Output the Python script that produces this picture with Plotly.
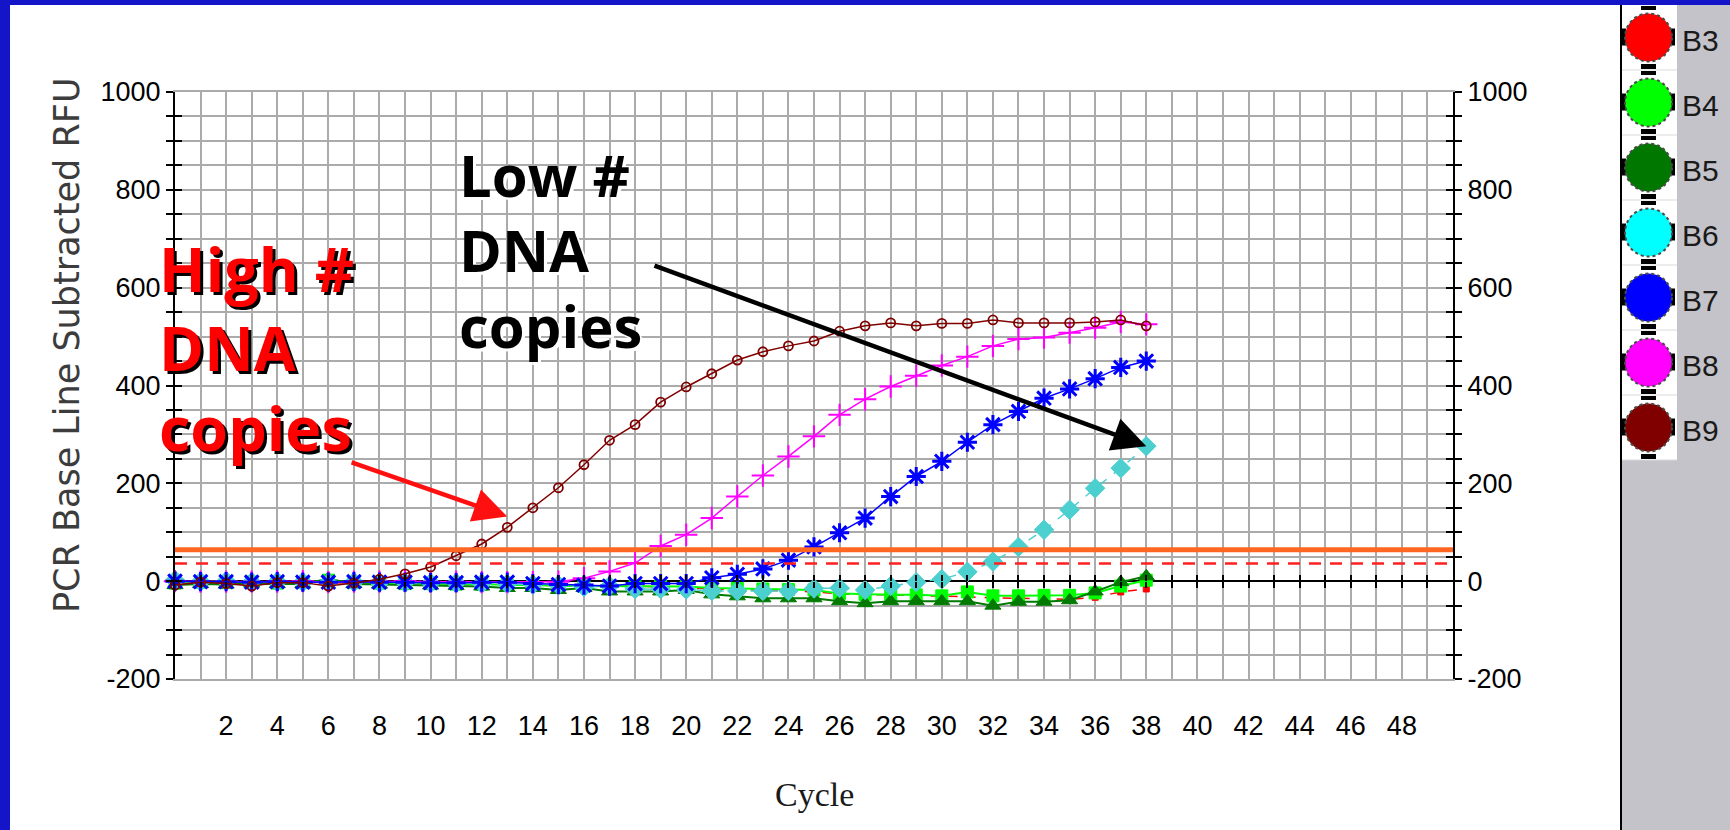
import plotly.graph_objects as go

# Baseline-subtracted fluorescence (RFU) per PCR cycle for wells B3..B9
cycles = list(range(0, 39))

wells = ["B3", "B4", "B5", "B6", "B7", "B8", "B9"]

rfu_b3 = [-3, -2, -4, -3, -5, -3, -4, -4, -3, -5, -4, -5, -6,
          -8, -9, -10, -10, -10, -10, -12, -14, -16, -18, -19, -20, -22,
          -26, -28, -28, -29, -31, -32, -34, -35, -35, -37, -33, -22, -16]
rfu_b4 = [-4, -2, -3, -2, -4, -3, 2, -3, -4, -5, -5, -6, -6,
          -8, -8, -10, -10, -10, -10, -10, -11, -14, -15, -16, -17, -18,
          -25, -27, -28, -28, -30, -22, -30, -30, -29, -29, -24, -10, 2]
rfu_b5 = [-8, -6, -7, -5, -6, -6, 5, -6, -7, -8, -9, -10, -11,
          -14, -14, -18, -14, -21, -21, -21, -18, -27, -31, -35, -35, -35,
          -41, -45, -41, -41, -41, -41, -50, -42, -42, -39, -21, -2, 10]
rfu_b6 = [2, -1, 0, -2, -1, -2, -3, -2, -3, -3, -4, -4, -5,
          -6, -7, -8, -12, -10, -16, -16, -17, -20, -20, -20, -20, -15,
          -14, -18, -10, -2, 4, 19, 40, 70, 105, 146, 190, 231, 276]
rfu_b7 = [0, -1, -1, -2, -1, -2, -2, -1, -2, -2, -3, -3, -2,
          -2, -5, -7, -8, -10, -5, -5, -5, 7, 14, 25, 43, 70,
          99, 129, 173, 214, 245, 284, 320, 347, 374, 393, 414, 437, 450]
rfu_b8 = [0, -1, -1, -1, -1, 0, -2, -1, -1, 0, -1, -1, -2,
          -2, -2, -1, 6, 20, 37, 72, 95, 129, 173, 216, 255, 296,
          340, 372, 398, 420, 441, 459, 481, 495, 498, 508, 518, 530, 525]
rfu_b9 = [-8, -2, -5, -10, -3, -3, -10, -4, 4, 15, 29, 52, 76,
          110, 150, 191, 238, 288, 320, 366, 397, 424, 452, 469, 481, 491,
          511, 522, 528, 522, 527, 527, 534, 528, 528, 528, 530, 534, 522]

threshold_rfu = 64
baseline_limit_rfu = 36

x_range = [0, 50]
y_range = [-200, 1000]
x_labels = ["2", "4", "6", "8", "10", "12", "14", "16", "18", "20", "22", "24",
            "26", "28", "30", "32", "34", "36", "38", "40", "42", "44", "46", "48"]
y_labels = ["-200", "0", "200", "400", "600", "800", "1000"]

series = {"B3": rfu_b3, "B4": rfu_b4, "B5": rfu_b5, "B6": rfu_b6,
          "B7": rfu_b7, "B8": rfu_b8, "B9": rfu_b9}

legend_colors = ["#FF0000", "#00FF00", "#007800", "#00FFFF", "#0000FF", "#FF00FF", "#800000"]

trace_style = {
    "B3": dict(color="#FF0000", symbol="square", size=6, mlw=1, lw=1.5, dash="dash"),
    "B4": dict(color="#00FF00", symbol="square", size=12, mlw=1, lw=2, dash="solid"),
    "B5": dict(color="#007A00", symbol="triangle-up", size=14, mlw=1, lw=2, dash="solid"),
    "B6": dict(color="#4CCFCF", symbol="diamond", size=15, mlw=1, lw=1.5, dash="dash"),
    "B7": dict(color="#0000FF", symbol="asterisk-open", size=16, mlw=3, lw=1.5, dash="solid"),
    "B8": dict(color="#FF00FF", symbol="cross-thin-open", size=16, mlw=2, lw=1.5, dash="solid"),
    "B9": dict(color="#800000", symbol="circle-open", size=9, mlw=1.8, lw=1.5, dash="solid"),
}
draw_order = ["B3", "B4", "B5", "B6", "B8", "B7", "B9"]

# Plot-area geometry in page pixels
W, H = 1730, 830
PL, PR, PT, PB = 175, 1453, 92, 679


def px(xp):
    return (xp - PL) / (PR - PL)


def py(yp):
    return (PB - yp) / (PB - PT)


fig = go.Figure()

for w in draw_order:
    st = trace_style[w]
    fig.add_trace(go.Scatter(
        x=cycles, y=series[w], mode="lines+markers", name=w,
        line=dict(color=st["color"], width=st["lw"], dash=st["dash"]),
        marker=dict(symbol=st["symbol"], size=st["size"], color=st["color"],
                    line=dict(color=st["color"], width=st["mlw"])),
        cliponaxis=False, showlegend=False))

# Threshold and baseline-limit lines
fig.add_trace(go.Scatter(x=x_range, y=[threshold_rfu, threshold_rfu], mode="lines",
                         line=dict(color="#FF6622", width=5),
                         showlegend=False, hoverinfo="skip"))
fig.add_trace(go.Scatter(x=x_range, y=[baseline_limit_rfu, baseline_limit_rfu], mode="lines",
                         line=dict(color="#FF2020", width=2.5, dash="12px,9px"),
                         showlegend=False, hoverinfo="skip"))

# Empty traces so the overlay axes (cross ticks) get drawn
for xa, ya in [("x2", "y"), ("x3", "y"), ("x", "y2"), ("x", "y3"), ("x", "y4")]:
    fig.add_trace(go.Scatter(x=[None], y=[None], xaxis=xa, yaxis=ya, mode="markers",
                             showlegend=False, hoverinfo="skip"))

tick_font = dict(family="Liberation Sans, Arial, sans-serif", size=27, color="black")
grid_color = "#ABABAB"

x_tick_vals = list(range(x_range[0], x_range[1] + 1))
x_tick_text = [lbl if lbl in x_labels else "" for lbl in (str(v) for v in x_tick_vals)]
y_tick_vals = list(range(y_range[0], y_range[1] + 1, 50))
y_tick_text = [lbl if lbl in y_labels else "" for lbl in (str(v) for v in y_tick_vals)]
zero_pos = (0 - y_range[0]) / (y_range[1] - y_range[0])

cross_x = dict(range=x_range, tickmode="array", tickvals=x_tick_vals[1:-1], ticks="outside",
               ticklen=6, tickwidth=2, tickcolor="black", showticklabels=False,
               showgrid=False, showline=False, zeroline=False, overlaying="x",
               anchor="free", position=zero_pos)
cross_y = dict(range=y_range, tickmode="array", tickvals=y_tick_vals, ticklen=7,
               tickwidth=2, tickcolor="black", showgrid=False, zeroline=False,
               overlaying="y", anchor="x")

fig.update_layout(
    width=W, height=H,
    margin=dict(l=PL, r=W - PR, t=PT, b=H - PB, pad=0),
    paper_bgcolor="white", plot_bgcolor="white",
    showlegend=False,
    xaxis=dict(range=x_range, tickmode="array", tickvals=x_tick_vals, ticktext=x_tick_text,
               ticks="", showgrid=True, gridcolor=grid_color, gridwidth=2,
               showline=True, linecolor=grid_color, linewidth=2, mirror=True,
               zeroline=False, tickfont=tick_font, ticklabelstandoff=22),
    xaxis2=dict(cross_x, side="bottom"),
    xaxis3=dict(cross_x, side="top"),
    yaxis=dict(range=y_range, tickmode="array", tickvals=y_tick_vals, ticktext=y_tick_text,
               ticks="outside", ticklen=7, tickwidth=2, tickcolor="black",
               showline=True, linecolor="black", linewidth=2,
               showgrid=True, gridcolor=grid_color, gridwidth=2,
               zeroline=True, zerolinecolor="black", zerolinewidth=2, tickfont=tick_font),
    yaxis2=dict(cross_y, side="left", ticks="inside", showticklabels=False, showline=False),
    yaxis3=dict(cross_y, side="right", ticks="outside", ticktext=y_tick_text,
                showticklabels=True, showline=True, linecolor="black", linewidth=2,
                tickfont=tick_font),
    yaxis4=dict(cross_y, side="right", ticks="inside", showticklabels=False, showline=False),
)

shapes = []


def rect(x0, y0, x1, y1, fill):
    return dict(type="rect", xref="paper", yref="paper",
                x0=px(x0), x1=px(x1), y0=py(y1), y1=py(y0),
                fillcolor=fill, line=dict(width=0, color=fill), layer="above")


# Slide frame: blue edges
shapes.append(rect(0, 0, 10, H, "#1414C8"))
shapes.append(rect(0, 0, W, 5, "#1414C8"))

# Well legend panel
shapes.append(rect(1622, 5, W, H, "#C4C3C9"))
shapes.append(rect(1620, 5, 1622, H, "#000000"))
shapes.append(rect(1622, 5, 1677, 5 + 65 * len(wells), "#FFFFFF"))

annotations = []
for i, (w, c) in enumerate(zip(wells, legend_colors)):
    top = 5 + 65 * i
    cy = top + 32.5
    shapes.append(dict(type="line", xref="paper", yref="paper",
                       x0=px(1622), x1=px(1677), y0=py(top + 65), y1=py(top + 65),
                       line=dict(color="#D9D9D9", width=1), layer="above"))
    shapes.append(rect(1641, top + 1, 1656, top + 5, "#000000"))
    shapes.append(rect(1641, top + 59, 1656, top + 64, "#000000"))
    shapes.append(rect(1621, cy - 9, 1626, cy + 8, "#000000"))
    shapes.append(rect(1670, cy - 9, 1675, cy + 8, "#000000"))
    shapes.append(dict(type="circle", xref="paper", yref="paper",
                       x0=px(1625), x1=px(1672), y0=py(cy + 24), y1=py(cy - 24),
                       fillcolor=c, line=dict(color="#4A4A4A", width=2, dash="dot"),
                       layer="above"))
    annotations.append(dict(xref="paper", yref="paper", x=px(1680), y=py(cy + 3),
                            xanchor="left", yanchor="middle", showarrow=False, text=w,
                            font=dict(family="Liberation Sans, Arial, sans-serif",
                                      size=30, color="#1A1A1A")))

# Axis titles
annotations.append(dict(xref="paper", yref="paper", x=px(67), y=py(345), textangle=-90,
                        xanchor="center", yanchor="middle", showarrow=False,
                        text="PCR Base Line Subtracted RFU",
                        font=dict(family="DejaVu Sans, sans-serif", size=35, color="#3C3C3C")))
annotations.append(dict(xref="paper", yref="paper", x=0.5, y=py(794),
                        xanchor="center", yanchor="middle", showarrow=False, text="Cycle",
                        font=dict(family="Liberation Serif, serif", size=34, color="#1A1A1A")))

# Callout notes
note_family = "Comic Sans MS, Open Sans, sans-serif"
high_note = "High #<br>DNA<br>copies"
low_note = "Low #<br>DNA<br>copies"

annotations.append(dict(xref="paper", yref="paper", x=px(157), y=py(348),
                        xanchor="left", yanchor="middle", align="left",
                        showarrow=False, text=high_note,
                        font=dict(family=note_family, size=61, color="#FF0000",
                                  weight="bold", shadow="3px 3px 0px #000000")))
annotations.append(dict(xref="paper", yref="paper", x=px(457), y=py(250),
                        xanchor="left", yanchor="middle", align="left",
                        showarrow=False, text=low_note,
                        font=dict(family=note_family, size=58, color="#000000",
                                  weight="bold", shadow="3px 3px 0px #FFFFFF")))

# Arrows: high-copy curve (early rise) and low-copy curve end point
annotations.append(dict(xref="x", yref="y", axref="x", ayref="y",
                        x=13.0, y=132, ax=6.85, ay=244, text="", showarrow=True,
                        arrowhead=2, arrowsize=1.5, arrowwidth=4.5, arrowcolor="#FF1010"))
annotations.append(dict(xref="x", yref="y", axref="x", ayref="y",
                        x=cycles[-1], y=rfu_b6[-1], ax=18.7, ay=646, text="", showarrow=True,
                        arrowhead=2, arrowsize=1.5, arrowwidth=4.5, arrowcolor="#000000"))

fig.update_layout(shapes=shapes, annotations=annotations)

fig.write_html("out.html", config={"displayModeBar": False})
